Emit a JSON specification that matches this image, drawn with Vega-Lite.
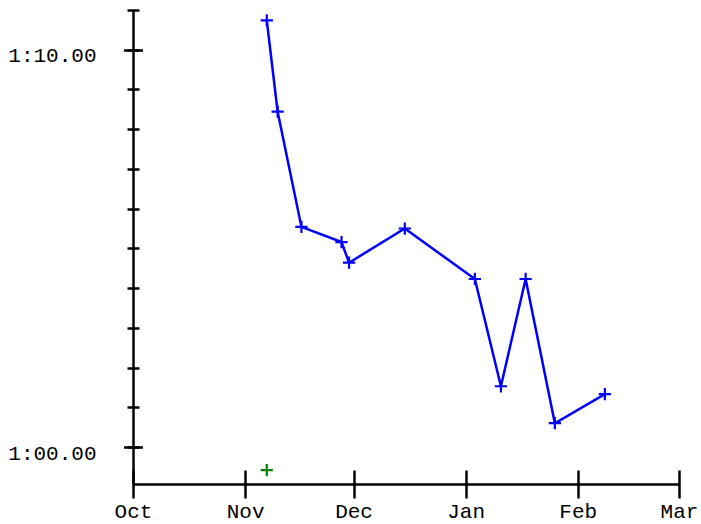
{
  "$schema": "https://vega.github.io/schema/vega-lite/v6.json",
  "width": 546,
  "height": 474,
  "autosize": {"type": "none"},
  "padding": {"left": 133, "top": 10, "right": 22, "bottom": 40},
  "background": "white",
  "config": {
    "view": {"stroke": null},
    "axis": {
      "labelFont": "Liberation Mono",
      "labelFontSize": 21,
      "labelColor": "black",
      "grid": false,
      "title": null,
      "domainColor": "black",
      "tickColor": "black",
      "labelFlush": false,
      "labelOverlap": false
    }
  },
  "datasets": {
    "blue": [
      {"date": "2009-11-07T00:00:00Z", "time": 70.74},
      {"date": "2009-11-10T00:00:00Z", "time": 68.44},
      {"date": "2009-11-16T14:00:00Z", "time": 65.54},
      {"date": "2009-11-27T16:00:00Z", "time": 65.16},
      {"date": "2009-11-29T18:00:00Z", "time": 64.64},
      {"date": "2009-12-15T04:00:00Z", "time": 65.50},
      {"date": "2010-01-03T13:00:00Z", "time": 64.23},
      {"date": "2010-01-10T18:00:00Z", "time": 61.53},
      {"date": "2010-01-17T14:00:00Z", "time": 64.23},
      {"date": "2010-01-25T16:00:00Z", "time": 60.60},
      {"date": "2010-02-08T12:00:00Z", "time": 61.33}
    ],
    "green": [
      {"date": "2009-11-07T00:00:00Z", "time": 59.42}
    ]
  },
  "layer": [
    {
      "data": {"name": "blue"},
      "mark": {"type": "line", "color": "#0000ff", "strokeWidth": 2.5},
      "encoding": {
        "x": {
          "field": "date", "type": "temporal",
          "scale": {"type": "utc", "domain": [{"year": 2009, "month": 10, "date": 1, "utc": true}, {"year": 2010, "month": 3, "date": 1, "utc": true}]},
          "axis": {"orient": "bottom", "domain": true, "domainWidth": 2.5, "ticks": false, "labels": false}
        },
        "y": {
          "field": "time", "type": "quantitative",
          "scale": {"domain": [59.07, 71], "zero": false, "nice": false},
          "axis": {"orient": "left", "domain": true, "domainWidth": 2.5, "ticks": false, "labels": false}
        }
      }
    },
    {
      "data": {"name": "blue"},
      "mark": {"type": "point", "shape": "M-1,0H1M0,-1V1", "size": 150, "filled": false, "color": "#0000ff", "strokeWidth": 2.2, "opacity": 1},
      "encoding": {
        "x": {
          "field": "date", "type": "temporal",
          "axis": {
            "orient": "bottom", "domain": false, "offset": -14, "tickSize": 28, "tickWidth": 2.5,
            "values": [
              {"year": 2009, "month": 10, "date": 1, "utc": true},
              {"year": 2009, "month": 11, "date": 1, "utc": true},
              {"year": 2009, "month": 12, "date": 1, "utc": true},
              {"year": 2010, "month": 1, "date": 1, "utc": true},
              {"year": 2010, "month": 2, "date": 1, "utc": true},
              {"year": 2010, "month": 3, "date": 1, "utc": true}
            ],
            "labelExpr": "utcFormat(datum.value, '%b')",
            "labelPadding": 2, "labelBaseline": "top", "labelAlign": "center"
          }
        },
        "y": {
          "field": "time", "type": "quantitative",
          "axis": {
            "orient": "left", "domain": false, "offset": -6, "tickSize": 12, "tickWidth": 2.5,
            "values": [60, 61, 62, 63, 64, 65, 66, 67, 68, 69, 70, 71], "labels": false
          }
        }
      }
    },
    {
      "data": {"name": "green"},
      "mark": {"type": "point", "shape": "M-1,0H1M0,-1V1", "size": 150, "filled": false, "color": "#008000", "strokeWidth": 2.2, "opacity": 1},
      "encoding": {
        "x": {"field": "date", "type": "temporal", "axis": null},
        "y": {
          "field": "time", "type": "quantitative",
          "axis": {
            "orient": "left", "domain": false, "offset": -9.5, "tickSize": 19, "tickWidth": 2.5,
            "values": [60, 70],
            "labelExpr": "floor(datum.value / 60) + ':' + format(datum.value % 60, '05.2f')",
            "labelPadding": 27.5, "labelAlign": "right", "labelBaseline": "alphabetic", "labelOffset": 12
          }
        }
      }
    }
  ],
  "resolve": {"axis": {"x": "independent", "y": "independent"}}
}
